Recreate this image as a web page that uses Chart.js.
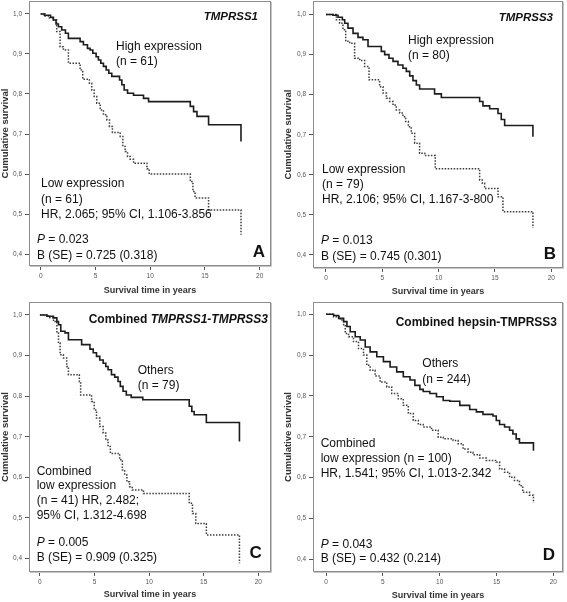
<!DOCTYPE html>
<html>
<head>
<meta charset="utf-8">
<script src="https://cdn.jsdelivr.net/npm/chart.js@4.4.0/dist/chart.umd.min.js"></script>
<style>
  html, body { margin: 0; padding: 0; background: #fff; }
  body { width: 567px; height: 602px; position: relative; overflow: hidden; }
  canvas { position: absolute; }
</style>
</head>
<body>
<canvas id="cA" width="283" height="300" style="left:0px;top:0px"></canvas>
<canvas id="cB" width="284" height="300" style="left:283px;top:0px"></canvas>
<canvas id="cC" width="283" height="302" style="left:0px;top:300px"></canvas>
<canvas id="cD" width="284" height="302" style="left:283px;top:300px"></canvas>
<script>
// ---------------- DATA ----------------
const xTickValues = [0, 5, 10, 15, 20];
const yTickValues = [0.4, 0.5, 0.6, 0.7, 0.8, 0.9, 1.0];
const xAxisTitle = "Survival time in years";
const yAxisTitle = "Cumulative survival";

// Panel A: TMPRSS1
const aHighT = [0,0.34,0.9,1.16,1.4,1.62,1.92,2.26,2.53,3.6,3.9,4.27,4.51,4.76,5.06,5.27,5.49,5.73,5.98,6.22,6.49,7.2,7.41,7.62,7.93,8.48,9.39,9.85,13.66,13.96,14.27,15.33,18.29];
const aHighS = [1,0.997,0.992,0.985,0.975,0.968,0.96,0.952,0.939,0.931,0.923,0.914,0.91,0.902,0.893,0.885,0.877,0.869,0.86,0.852,0.844,0.835,0.823,0.81,0.802,0.797,0.789,0.781,0.769,0.756,0.744,0.723,0.681];
const aLowT = [0,0.4,0.7,1.16,1.46,1.77,2.07,2.53,3.6,3.84,4.45,4.66,4.88,5.12,5.43,5.73,6.04,6.28,6.55,7.26,7.5,7.71,7.93,8.17,8.48,9.7,9.91,13.66,13.9,14.1,15.33,18.29];
const aLowS = [1,0.995,0.99,0.985,0.956,0.918,0.91,0.877,0.86,0.837,0.827,0.81,0.794,0.777,0.76,0.748,0.735,0.719,0.704,0.694,0.669,0.656,0.644,0.637,0.627,0.613,0.6,0.581,0.556,0.54,0.51,0.448];

// Panel B: TMPRSS3
const bHighT = [0,0.62,1.07,1.45,1.66,1.95,2.4,2.84,3.28,3.73,4.91,5.21,5.59,5.95,6.39,6.83,7.13,7.43,7.72,8.02,8.31,9.64,10.24,13.64,13.93,14.53,15.27,15.56,15.86,18.37];
const bHighS = [1,0.998,0.993,0.987,0.978,0.966,0.953,0.943,0.937,0.92,0.908,0.9,0.891,0.883,0.874,0.866,0.858,0.847,0.835,0.824,0.814,0.802,0.793,0.783,0.772,0.765,0.753,0.738,0.723,0.695];
const bLowT = [0,0.92,1.21,1.51,1.75,2.1,2.54,2.99,3.43,3.82,4.76,5.06,5.36,5.65,5.95,6.24,6.54,6.83,7.07,7.31,7.57,7.87,8.31,8.76,9.7,13.64,13.88,14.08,15.27,15.71,18.37];
const bLowS = [1,0.987,0.978,0.962,0.933,0.928,0.891,0.885,0.87,0.837,0.82,0.804,0.791,0.783,0.774,0.762,0.754,0.745,0.733,0.72,0.704,0.679,0.654,0.648,0.615,0.587,0.579,0.566,0.545,0.508,0.467];

// Panel C: Combined TMPRSS1-TMPRSS3
const cHighT = [0,0.64,1.24,1.55,1.7,1.91,2.3,2.61,3.82,4.58,4.88,5.18,5.48,5.79,6.03,6.24,6.55,6.85,7.15,7.36,7.61,7.91,8.36,9.42,13.67,13.91,14.12,15.24,18.27];
const cHighS = [1,0.997,0.993,0.984,0.976,0.96,0.956,0.939,0.927,0.916,0.907,0.898,0.889,0.881,0.873,0.865,0.853,0.847,0.836,0.824,0.812,0.803,0.797,0.791,0.775,0.762,0.754,0.735,0.688];
const cLowT = [0,0.79,1.24,1.55,1.7,1.85,2.15,2.45,2.61,3.61,3.73,4.73,4.97,5.18,5.48,5.79,6.03,6.24,6.45,7.3,7.55,7.76,7.97,8.21,8.45,9.48,13.67,13.97,14.27,15.24,18.27];
const cLowS = [1,0.993,0.984,0.955,0.931,0.902,0.894,0.873,0.853,0.836,0.803,0.787,0.766,0.746,0.725,0.709,0.692,0.676,0.659,0.643,0.618,0.606,0.589,0.577,0.569,0.56,0.536,0.511,0.486,0.458,0.388];

// Panel D: Combined hepsin-TMPRSS3
const dHighT = [0,0.67,1.11,1.55,1.84,2.13,2.57,3.01,3.45,3.88,4.47,5.05,5.64,6.22,6.8,7.39,7.82,8.26,8.55,9.14,9.72,10.31,10.89,11.77,12.64,13.23,13.81,14.69,14.98,15.27,15.71,16.15,16.44,16.73,17.02,18.25];
const dHighS = [1,0.997,0.99,0.982,0.97,0.957,0.945,0.937,0.92,0.908,0.896,0.884,0.871,0.859,0.847,0.839,0.826,0.816,0.811,0.806,0.798,0.789,0.787,0.777,0.767,0.761,0.755,0.751,0.74,0.73,0.724,0.716,0.707,0.695,0.685,0.666];
const dLowT = [0,0.67,1.26,1.55,1.69,1.99,2.42,2.86,3.3,3.59,3.88,4.32,4.76,5.34,5.78,6.36,6.8,7.24,7.68,8.12,8.55,9.28,9.87,10.31,11.18,11.62,12.06,12.5,12.93,13.52,14.1,14.98,15.27,15.71,16.15,16.58,17.02,17.31,17.9,18.25];
const dLowS = [1,0.994,0.986,0.974,0.953,0.945,0.933,0.916,0.9,0.875,0.863,0.849,0.834,0.822,0.806,0.793,0.777,0.757,0.74,0.73,0.724,0.716,0.699,0.695,0.691,0.683,0.67,0.662,0.656,0.648,0.642,0.638,0.621,0.613,0.601,0.593,0.58,0.564,0.557,0.538];

// Texts
const aTexts = ["TMPRSS1", "High expression", "(n = 61)", "Low expression", "(n = 61)", "HR, 2.065; 95% CI, 1.106-3.856", "0.023", "B (SE) = 0.725 (0.318)", "A"];
const bTexts = ["TMPRSS3", "High expression", "(n = 80)", "Low expression", "(n = 79)", "HR, 2.106; 95% CI, 1.167-3-800", "0.013", "B (SE) = 0.745 (0.301)", "B"];
const cTexts = ["TMPRSS1-TMPRSS3", "Others", "(n = 79)", "Combined", "low expression", "(n = 41) HR, 2.482;", "95% CI, 1.312-4.698", "0.005", "B (SE) = 0.909 (0.325)", "C"];
const dTexts = ["hepsin-TMPRSS3", "Others", "(n = 244)", "Combined", "low expression (n = 100)", "HR, 1.541; 95% CI, 1.013-2.342", "0.043", "B (SE) = 0.432 (0.214)", "D"];

// ---------------- RENDER ----------------
const FONT = "'Liberation Sans', Arial, Helvetica, sans-serif";
function pts(T, S) { return T.map((t, i) => ({ x: t, y: S[i] })); }

function R(text, style) { return { text, style: style || 'normal' }; }
function item(dx, dy, runs, opt) { return Object.assign({ dx, dy, runs, align: 'left', base: 'middle', size: 12 }, opt || {}); }

const panels = [
  { id: 'cA', left: 29, right: 271, top: 1, bottom: 266, xmin: -1.068, xmax: 21.03, ymin: 0.37, ymax: 1.0325, xtPad: 3.6,
    high: pts(aHighT, aHighS), low: pts(aLowT, aLowS),
    items: [
      item(229, 16, [R(aTexts[0], 'italic bold')], { align: 'right', size: 11.5 }),
      item(87, 45.7, [R(aTexts[1])]), item(87, 60.7, [R(aTexts[2])]),
      item(12, 183, [R(aTexts[3])]), item(12, 199, [R(aTexts[4])]), item(12, 213.3, [R(aTexts[5])]),
      item(8, 239, [R('P', 'italic'), R(' = ' + aTexts[6])]), item(8, 255, [R(aTexts[7])]),
      item(236, 255.7, [R(aTexts[8], 'bold')], { align: 'right', base: 'alphabetic', size: 17 })
    ] },
  { id: 'cB', left: 30, right: 280, top: 1, bottom: 268, xmin: -1.154, xmax: 21.04, ymin: 0.3675, ymax: 1.0337, xtPad: 2.9,
    high: pts(bHighT, bHighS), low: pts(bLowT, bLowS),
    items: [
      item(240, 17, [R(bTexts[0], 'italic bold')], { align: 'right', size: 11.5 }),
      item(95, 39.7, [R(bTexts[1])]), item(95, 54.7, [R(bTexts[2])]),
      item(9, 169, [R(bTexts[3])]), item(9, 184, [R(bTexts[4])]), item(9, 199, [R(bTexts[5])]),
      item(8, 239.7, [R('P', 'italic'), R(' = ' + bTexts[6])]), item(8, 255.7, [R(bTexts[7])]),
      item(243, 258, [R(bTexts[8], 'bold')], { align: 'right', base: 'alphabetic', size: 17 })
    ] },
  { id: 'cC', left: 29, right: 271, top: 2, bottom: 272, xmin: -1.0, xmax: 21.16, ymin: 0.3667, ymax: 1.032, xtPad: 1.6,
    high: pts(cHighT, cHighS), low: pts(cLowT, cLowS),
    items: [
      item(239, 18, [R('Combined ', 'bold'), R(cTexts[0], 'italic bold')], { align: 'right', size: 12 }),
      item(108.7, 68.7, [R(cTexts[1])]), item(108.7, 84, [R(cTexts[2])]),
      item(7.7, 169.7, [R(cTexts[3])]), item(7.7, 183.7, [R(cTexts[4])]), item(7.7, 198.5, [R(cTexts[5])]), item(7.7, 214, [R(cTexts[6])]),
      item(7.7, 240.7, [R('P', 'italic'), R(' = ' + cTexts[7])]), item(7.7, 255.3, [R(cTexts[8])]),
      item(232.7, 256.3, [R(cTexts[9], 'bold')], { align: 'right', base: 'alphabetic', size: 17 })
    ] },
  { id: 'cD', left: 30, right: 280, top: 2, bottom: 272, xmin: -1.144, xmax: 20.85, ymin: 0.369, ymax: 1.030, xtPad: 0.6,
    high: pts(dHighT, dHighS), low: pts(dLowT, dLowS),
    items: [
      item(244, 20.7, [R('Combined ', 'bold'), R(dTexts[0], 'bold')], { align: 'right', size: 12 }),
      item(109.3, 61.3, [R(dTexts[1])]), item(109.3, 77.3, [R(dTexts[2])]),
      item(7.7, 141.3, [R(dTexts[3])]), item(7.7, 156.3, [R(dTexts[4])]), item(7.7, 171.3, [R(dTexts[5])]),
      item(7.7, 242.3, [R('P', 'italic'), R(' = ' + dTexts[6])]), item(7.7, 257, [R(dTexts[7])]),
      item(242, 258, [R(dTexts[8], 'bold')], { align: 'right', base: 'alphabetic', size: 17 })
    ] }
];

const framePlugin = {
  id: 'frameText',
  afterDatasetsDraw(chart, args, opts) {
    const { ctx, chartArea: ca } = chart;
    ctx.save();
    ctx.lineWidth = 1;
    ctx.strokeStyle = '#8c8c8c';
    ctx.strokeRect(Math.round(ca.left) + 0.5, Math.round(ca.top) + 0.5,
                   Math.round(ca.right - ca.left) - 1, Math.round(ca.bottom - ca.top) - 1);
    ctx.strokeStyle = '#c6c6c6';
    ctx.beginPath();
    ctx.moveTo(Math.round(ca.right) + 0.5, Math.round(ca.top) + 1);
    ctx.lineTo(Math.round(ca.right) + 0.5, Math.round(ca.bottom) + 0.5);
    ctx.lineTo(Math.round(ca.left) + 1, Math.round(ca.bottom) + 0.5);
    ctx.stroke();
    ctx.fillStyle = '#111';
    for (const it of opts.items) {
      const fonts = it.runs.map(r => r.style + ' ' + it.size + 'px ' + FONT);
      let total = 0;
      const widths = it.runs.map((r, i) => { ctx.font = fonts[i]; const w = ctx.measureText(r.text).width; total += w; return w; });
      let x = ca.left + it.dx - (it.align === 'right' ? total : 0);
      const y = ca.top + it.dy;
      ctx.textBaseline = it.base;
      ctx.textAlign = 'left';
      it.runs.forEach((r, i) => { ctx.font = fonts[i]; ctx.fillText(r.text, x, y); x += widths[i]; });
    }
    ctx.restore();
  }
};

function zeroPad(s) { s.paddingTop = 0; s.paddingBottom = 0; s.paddingLeft = 0; s.paddingRight = 0; }

panels.forEach(p => {
  const cv = document.getElementById(p.id);
  const W = cv.width, H = cv.height;
  new Chart(cv, {
    type: 'line',
    data: {
      datasets: [
        { data: p.high, borderColor: '#1c1c1c', borderWidth: 1.6, stepped: 'before', pointRadius: 0, fill: false },
        { data: p.low, borderColor: '#3c3c3c', borderWidth: 1.5, borderDash: [1.5, 1.5], stepped: 'before', pointRadius: 0, fill: false }
      ]
    },
    options: {
      responsive: false,
      maintainAspectRatio: false,
      devicePixelRatio: 1,
      animation: false,
      events: [],
      layout: { padding: { left: 0, top: p.top, right: W - p.right, bottom: 0 } },
      plugins: { legend: { display: false }, tooltip: { enabled: false }, frameText: { items: p.items } },
      scales: {
        x: {
          type: 'linear', min: p.xmin, max: p.xmax,
          afterBuildTicks: s => { s.ticks = xTickValues.map(v => ({ value: v })); },
          afterFit: s => { s.height = H - p.bottom; zeroPad(s); },
          grid: { display: true, drawOnChartArea: false, drawTicks: true, tickLength: 4, color: '#555', lineWidth: 1 },
          border: { display: false },
          ticks: { color: '#555', font: { family: FONT, size: 6.5 }, padding: 2, maxRotation: 0, autoSkip: false, callback: v => String(v) },
          title: { display: true, text: xAxisTitle, color: '#333', font: { family: FONT, size: 9, weight: 'bold' }, padding: { top: 0, bottom: p.xtPad } }
        },
        y: {
          type: 'linear', min: p.ymin, max: p.ymax,
          afterBuildTicks: s => { s.ticks = yTickValues.map(v => ({ value: v })); },
          afterFit: s => { s.width = p.left; zeroPad(s); },
          grid: { display: true, drawOnChartArea: false, drawTicks: true, tickLength: 4, color: '#555', lineWidth: 1 },
          border: { display: false },
          ticks: { color: '#555', font: { family: FONT, size: 6.5 }, padding: 3, autoSkip: false, callback: v => v.toFixed(1).replace('.', ',') },
          title: { display: true, text: yAxisTitle, color: '#333', font: { family: FONT, size: 9.5, weight: 'bold' }, padding: { top: 0, bottom: 0 } }
        }
      }
    },
    plugins: [framePlugin]
  });
});
</script>
</body>
</html>
